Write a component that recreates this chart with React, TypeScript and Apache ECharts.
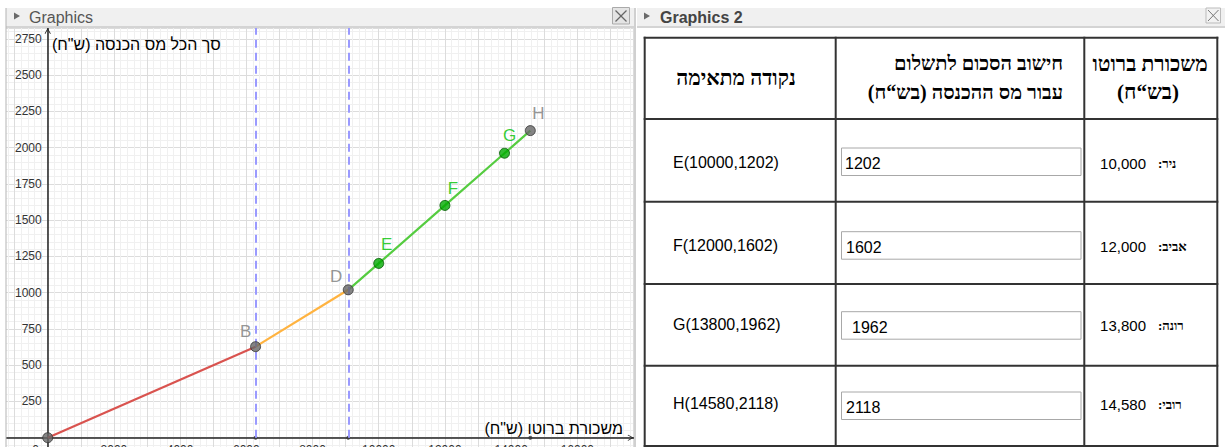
import React, { useEffect, useRef } from "react";
import * as echarts from "echarts";

// ---- data ----
const breakX = [0, 6280, 9080];
const breakY = [0, 628, 1020];
const breakNames = ["", "B", "D"];
const salaries = [10000, 12000, 13800, 14580];
const taxes = [1202, 1602, 1962, 2118];
const pointNames = ["E", "F", "G", "H"];
const people = ["ניר:", "אביב:", "רונה:", "רובי:"];
const xTickStep = 2000;
const yTickStep = 250;
const xAxisTitle = 'משכורת ברוטו (ש"ח)';
const yAxisTitle = 'סך הכל מס הכנסה (ש"ח)';
const headerPoint = "נקודה מתאימה";
const headerCalc = ["חישוב הסכום לתשלום", "עבור מס ההכנסה (בש“ח)"];
const headerSalary = ["משכורת ברוטו", "(בש“ח)"];

const RLM = "\u200F";
const rtl = (s: string) => RLM + s + RLM;

const SANS = "'Liberation Sans', Arial, 'DejaVu Sans', sans-serif";
const SERIF = "'Liberation Serif', 'Times New Roman', 'DejaVu Serif', serif";

// label offsets (px) relative to point centre
const labelOffsets: Record<string, [number, number]> = {
  B: [-10, -15],
  D: [-12, -13],
  E: [8, -19],
  F: [8, -17],
  G: [5, -18],
  H: [8, -17],
};

export default function App() {
  const ref = useRef<HTMLDivElement>(null);
  useEffect(() => {
    if (!ref.current) return;
    const chart = echarts.init(ref.current, null, { renderer: "svg" });

    const grayPts = [
      ...breakX.map((x, i) => ({ name: breakNames[i], value: [x, breakY[i]] })),
      { name: pointNames[3], value: [salaries[3], taxes[3]] },
    ];
    const greenPts = pointNames.slice(0, 3).map((n, i) => ({ name: n, value: [salaries[i], taxes[i]] }));
    const ptLabel = (color: string) => (d: any) => {
      const off = labelOffsets[d.name];
      return {
        ...d,
        label: off
          ? { show: true, position: "inside", offset: off, formatter: "{b}", color, fontSize: 17, fontFamily: SANS }
          : { show: false },
      };
    };

    // ---- panel chrome and table ----
    const g: any[] = [];
    const rect = (x: number, y: number, w: number, h: number, fill: string, stroke?: string, lw = 1) =>
      g.push({ type: "rect", z: 100, shape: { x, y, width: w, height: h }, style: { fill, stroke: stroke || null, lineWidth: lw }, silent: true });
    const line = (x1: number, y1: number, x2: number, y2: number, stroke: string, lw = 1) =>
      g.push({ type: "line", z: 101, shape: { x1, y1, x2, y2 }, style: { stroke, lineWidth: lw }, silent: true });
    const text = (t: string, x: number, y: number, o: any = {}) =>
      g.push({
        type: "text", z: 102, x, y, silent: true,
        style: { text: t, fontSize: o.size || 16, fontFamily: o.family || SANS, fontWeight: o.weight || "normal", fill: o.fill || "#000", align: o.align || "left", verticalAlign: "middle" },
      });

    rect(0, 0, 6, 447, "#fff");
    rect(0, 0, 1225, 8, "#fff");
    rect(6, 8, 628, 18, "#f0f0f0");
    rect(6, 26, 628, 2, "#d4d4d4");
    rect(5.5, 8, 1, 439, "#b4b4b4");
    g.push({ type: "polygon", z: 102, shape: { points: [[14, 12.5], [20, 16], [14, 19.5]] }, style: { fill: "#6a6a6a" }, silent: true });
    text("Graphics", 29, 17, { fill: "#555" });
    rect(612.5, 7.5, 17, 16.5, "#e4e4e4", "#aaa");
    line(615.5, 10.5, 626.5, 21.5, "#666", 1.2);
    line(626.5, 10.5, 615.5, 21.5, "#666", 1.2);

    rect(636, 8, 589, 439, "#fff");
    rect(634, 8, 2, 439, "#d0d0d0");
    rect(637, 8, 588, 18, "#f0f0f0");
    rect(637, 26, 588, 2, "#d4d4d4");
    g.push({ type: "polygon", z: 102, shape: { points: [[644, 12.5], [650, 16], [644, 19.5]] }, style: { fill: "#6a6a6a" }, silent: true });
    text("Graphics 2", 660, 17, { fill: "#444", weight: "bold" });
    rect(1206, 8, 14.5, 15, "#f2f2f2", "#bbb");
    line(1208, 10, 1218.5, 21, "#777", 1);
    line(1218.5, 10, 1208, 21, "#777", 1);

    const colX = [644.7, 835.7, 1084.3, 1217.3];
    const rowY = [37.7, 119, 201.7, 284, 365.7, 446];
    colX.forEach((x) => line(x, rowY[0] - 1, x, 447, "#333", 2));
    rowY.forEach((y) => line(colX[0] - 1, y, colX[3] + 1, y, "#333", 2));

    text(rtl(headerPoint), 736, 78, { family: SERIF, weight: "bold", size: 21, align: "center" });
    text(rtl(headerCalc[0]), 1063, 63, { family: SERIF, weight: "bold", size: 20, align: "right" });
    text(rtl(headerCalc[1]), 1063, 92, { family: SERIF, weight: "bold", size: 20, align: "right" });
    text(rtl(headerSalary[0]), 1150, 64, { family: SERIF, weight: "bold", size: 21, align: "center" });
    text(rtl(headerSalary[1]), 1148, 92, { family: SERIF, weight: "bold", size: 21, align: "center" });

    const textY = [162.5, 245, 324.5, 403.5];
    const boxY = [148, 231.7, 311.7, 392];
    const boxTextX = [845, 846, 852, 846];
    salaries.forEach((s, i) => {
      text(`${pointNames[i]}(${s},${taxes[i]})`, 673, textY[i], { size: 16 });
      rect(841.5, boxY[i], 239.5, 27.5, "#fff", "#a8a8a8");
      text(String(taxes[i]), boxTextX[i], boxY[i] + 15.5, { size: 16 });
      text(s.toLocaleString("en-US"), 1146, textY[i] + 1, { size: 15, align: "right" });
      text(rtl(people[i]), 1158, textY[i] + 1, { size: 13, family: SERIF, weight: "bold" });
    });

    text(rtl(yAxisTitle), 52, 44, { size: 16 });
    text(rtl(xAxisTitle), 623, 428, { size: 16, align: "right" });

    const chevron = "path://M0,9 L5,0 L10,9 L9,9.8 L5,2.6 L1,9.8 Z";

    chart.setOption({
      animation: false,
      grid: { left: -18.5, right: 591.4, top: 28.1, bottom: -26.95, containLabel: false, outerBoundsMode: "none" },
      xAxis: {
        type: "value", min: -2000, max: 17700, interval: 1000, position: "bottom", offset: -36.25,
        axisLine: { show: true, onZero: false, lineStyle: { color: "#222", width: 1.5 }, symbol: ["none", chevron], symbolSize: [9, 6], symbolOffset: [0, -3] },
        axisTick: { show: false },
        axisLabel: {
          margin: 6, fontSize: 12, color: "#333", fontFamily: SANS,
          formatter: (v: number) => (v === 0 ? "{z|0}" : v > 0 && v % xTickStep === 0 ? String(v) : ""),
          rich: { z: { fontSize: 12, color: "#333", fontFamily: SANS, padding: [0, 24, 0, 0] } },
        },
        splitLine: { show: true, lineStyle: { color: "#dcdcdc", width: 1 } },
        minorTick: { show: false, splitNumber: 5 },
        minorSplitLine: { show: true, lineStyle: { color: "#f0f0f0", width: 1 } },
      },
      yAxis: {
        type: "value", min: -250, max: 2825, interval: 250, position: "left", offset: -66.2,
        axisLine: { show: true, onZero: false, lineStyle: { color: "#222", width: 1.5 }, symbol: ["none", chevron], symbolSize: [9, 6], symbolOffset: [0, -3] },
        axisTick: { show: false },
        axisLabel: {
          margin: 6, fontSize: 12, color: "#333", fontFamily: SANS,
          formatter: (v: number) => (v > 0 && v % yTickStep === 0 ? String(v) : ""),
        },
        splitLine: { show: true, lineStyle: { color: "#dcdcdc", width: 1 } },
        minorTick: { show: false, splitNumber: 5 },
        minorSplitLine: { show: true, lineStyle: { color: "#f0f0f0", width: 1 } },
      },
      series: [
        {
          type: "line", data: [[breakX[0], breakY[0]], [breakX[1], breakY[1]]], symbol: "none",
          lineStyle: { color: "#d9534f", width: 2.2 }, z: 3,
          markLine: {
            silent: true, symbol: ["none", "none"], label: { show: false },
            lineStyle: { color: "#9a9aff", type: [8, 5], width: 2 },
            data: [1, 2].map((i) => [{ coord: [breakX[i], 0] }, { coord: [breakX[i], 2825] }]),
          },
        },
        { type: "line", data: [[breakX[1], breakY[1]], [breakX[2], breakY[2]]], symbol: "none", lineStyle: { color: "#ffb340", width: 2.2 }, z: 3 },
        {
          type: "line", data: [[breakX[2], breakY[2]], ...salaries.map((s, i) => [s, taxes[i]])], symbol: "none",
          lineStyle: { color: "#55cc40", width: 2.2 }, z: 3,
        },
        {
          type: "scatter", data: [[breakX[1], 0], [breakX[2], 0], [salaries[3], 0]], symbolSize: 4,
          itemStyle: { color: "#333" }, z: 4,
        },
        {
          type: "scatter", data: grayPts.map(ptLabel("#7a7a7a")), symbolSize: 10,
          itemStyle: { color: "#666", borderColor: "#333", borderWidth: 1 }, z: 5,
        },
        {
          type: "scatter", data: greenPts.map(ptLabel("#00c000")), symbolSize: 10,
          itemStyle: { color: "#00aa00", borderColor: "#005500", borderWidth: 1 }, z: 5,
        },
      ],
      graphic: g,
    });
    return () => chart.dispose();
  }, []);
  return <div ref={ref} style={{ position: "fixed", left: 0, top: 0, width: 1225, height: 447, background: "#fff" }} />;
}
